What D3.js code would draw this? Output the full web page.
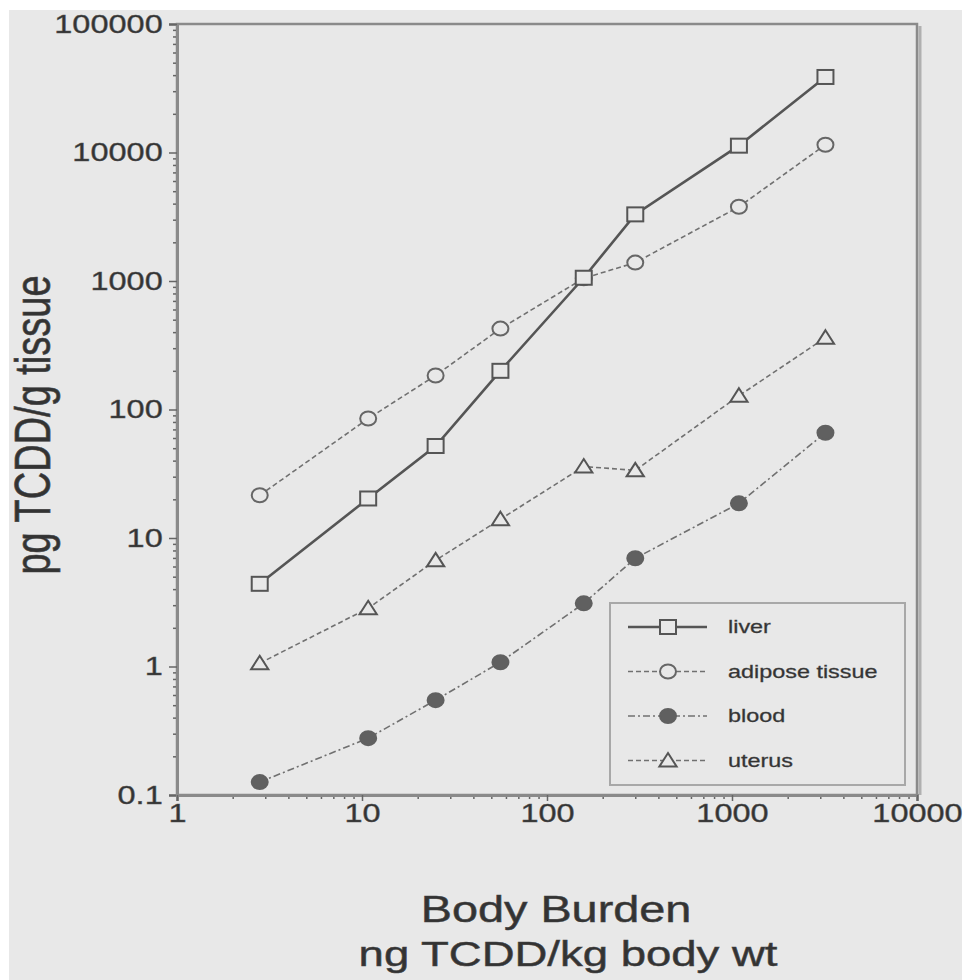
<!DOCTYPE html>
<html>
<head>
<meta charset="utf-8">
<script src="https://cdn.jsdelivr.net/npm/d3@7"></script>
<style>
  html, body { margin: 0; padding: 0; background: #ffffff; }
  svg { display: block; }
  text { font-family: "Liberation Sans", Arial, sans-serif; fill: #333; }
</style>
</head>
<body>
<svg id="chart" width="967" height="980"></svg>
<script>
// ---- data ----
const bodyBurden = [2.8, 10.8, 25, 56, 158, 300, 1090, 3200];
const liver   = [4.4, 20.3, 52, 200, 1060, 3300, 11300, 38700];
const adipose = [21.5, 85, 184, 426, 1050, 1390, 3780, 11500];
const blood   = [0.126, 0.277, 0.547, 1.08, 3.1, 6.95, 18.6, 66];
const uterus  = [1.06, 2.84, 6.7, 14, 36, 33.6, 128, 362];
const seriesNames = ["liver", "adipose tissue", "blood", "uterus"];
const xTickLabels = ["1", "10", "100", "1000", "10000"];
const yTickLabels = ["0.1", "1", "10", "100", "1000", "10000", "100000"];
const xTitle = ["Body Burden", "ng TCDD/kg body wt"];
const yTitle = "pg TCDD/g tissue";

(function () {
// ---- layout ----
const SX = 1.3; // horizontal stretch of text and markers in the reference
const svg = d3.select("#chart");
svg.append("rect").attr("x", 9).attr("y", 10).attr("width", 953).attr("height", 970).attr("fill", "#e8e8e8");

const pL = 177, pR = 917, pT = 24, pB = 795;
const x = d3.scaleLog().domain([1, 10000]).range([pL, pR]);
const y = d3.scaleLog().domain([0.1, 100000]).range([pB, pT]);

const xMajor = xTickLabels.map(Number);
const yMajor = yTickLabels.map(Number);
function minors(majors) {
  const out = [];
  for (let i = 0; i < majors.length - 1; i++)
    for (let k = 2; k <= 9; k++) out.push(majors[i] * k);
  return out;
}

// frame
svg.append("line").attr("x1", pR + 3).attr("x2", pR + 3).attr("y1", pT + 2).attr("y2", pB)
  .attr("stroke", "#b0b0b0").attr("stroke-width", 3);
svg.append("rect").attr("x", pL).attr("y", pT).attr("width", pR - pL).attr("height", pB - pT)
  .attr("fill", "none").attr("stroke", "#8a8a8a").attr("stroke-width", 2.5);

// y axis
const gyMin = svg.append("g").attr("transform", `translate(${pL},0)`)
  .call(d3.axisLeft(y).tickValues(minors(yMajor)).tickSize(4).tickFormat(""));
const gy = svg.append("g").attr("transform", `translate(${pL},0)`)
  .call(d3.axisLeft(y).tickValues(yMajor).tickSize(8).tickPadding(3)
        .tickFormat((d, i) => yTickLabels[i]));
// x axis
const gxMin = svg.append("g").attr("transform", `translate(0,${pB})`)
  .call(d3.axisBottom(x).tickValues(minors(xMajor)).tickSize(4).tickFormat(""));
const gx = svg.append("g").attr("transform", `translate(0,${pB})`)
  .call(d3.axisBottom(x).tickValues(xMajor).tickSize(6).tickPadding(3)
        .tickFormat((d, i) => xTickLabels[i]));

[gyMin, gy, gxMin, gx].forEach(g => {
  g.select(".domain").attr("stroke", "#8a8a8a").attr("stroke-width", 3);
  g.selectAll(".tick line").attr("stroke", "#666").attr("stroke-width", 1.5);
});
gy.selectAll(".tick text").attr("font-size", 25).attr("fill", "#2e2e2e")
  .attr("stroke", "#555").attr("stroke-width", 0.4)
  .attr("transform", `scale(${SX},1)`);
gx.selectAll(".tick text").attr("font-size", 25).attr("fill", "#2e2e2e")
  .attr("stroke", "#555").attr("stroke-width", 0.4)
  .attr("transform", `scale(${SX},1)`);

// titles
svg.append("text").attr("text-anchor", "middle").attr("font-size", 36)
  .attr("stroke", "#444").attr("stroke-width", 0.5)
  .attr("transform", `translate(556,922) scale(${SX},1)`).text(xTitle[0]);
svg.append("text").attr("text-anchor", "middle").attr("font-size", 35)
  .attr("stroke", "#444").attr("stroke-width", 0.5)
  .attr("transform", `translate(568,966) scale(${SX},1)`).text(xTitle[1]);
svg.append("text").attr("text-anchor", "middle").attr("font-size", 38)
  .attr("stroke", "#444").attr("stroke-width", 0.5)
  .attr("transform", `translate(50,425) scale(${SX},1) rotate(-90)`).text(yTitle);

// series
const styles = {
  "liver":          { data: liver,   dash: null,      width: 2.6, color: "#555",    marker: "square",   fill: "#e8e8e8" },
  "adipose tissue": { data: adipose, dash: "5,3",     width: 1.6, color: "#707070", marker: "circle",   fill: "#e8e8e8" },
  "blood":          { data: blood,   dash: "7,3,2,3", width: 1.6, color: "#707070", marker: "circle",   fill: "#606060" },
  "uterus":         { data: uterus,  dash: "5,3",     width: 1.6, color: "#707070", marker: "triangle", fill: "#e8e8e8" }
};

function drawMarker(g, kind, cx, cy, fill) {
  if (kind === "square") {
    g.append("rect").attr("x", cx - 8).attr("y", cy - 7).attr("width", 16).attr("height", 14)
      .attr("fill", fill).attr("stroke", "#555").attr("stroke-width", 2);
  } else if (kind === "circle") {
    g.append("ellipse").attr("cx", cx).attr("cy", cy).attr("rx", 8).attr("ry", 7)
      .attr("fill", fill).attr("stroke", fill === "#606060" ? "#606060" : "#666").attr("stroke-width", 2);
  } else {
    const s = 7.5;
    const p = `M${cx},${cy - s} L${cx + s * 1.15},${cy + s * 0.8} L${cx - s * 1.15},${cy + s * 0.8} Z`;
    g.append("path").attr("d", p).attr("fill", fill).attr("stroke", "#555").attr("stroke-width", 2);
  }
}

const line = d3.line().x(d => x(d[0])).y(d => y(d[1]));
const order = ["uterus", "blood", "adipose tissue", "liver"];
order.forEach(name => {
  const st = styles[name];
  const pts = bodyBurden.map((b, i) => [b, st.data[i]]);
  const g = svg.append("g");
  g.append("path").datum(pts).attr("d", line).attr("fill", "none")
    .attr("stroke", st.color).attr("stroke-width", st.width)
    .attr("stroke-dasharray", st.dash);
  pts.forEach(p => drawMarker(g, st.marker, x(p[0]), y(p[1]), st.fill));
});

// legend
const lg = svg.append("g");
lg.append("rect").attr("x", 610).attr("y", 603).attr("width", 295).attr("height", 182)
  .attr("fill", "#e8e8e8").attr("stroke", "#a8a8a8").attr("stroke-width", 2);
seriesNames.forEach((name, i) => {
  const st = styles[name];
  const ly = 627 + i * 44.5;
  lg.append("line").attr("x1", 628).attr("x2", 707).attr("y1", ly).attr("y2", ly)
    .attr("stroke", st.color).attr("stroke-width", st.width).attr("stroke-dasharray", st.dash);
  drawMarker(lg, st.marker, 668, ly, st.fill);
  lg.append("text").attr("font-size", 18).attr("dy", "0.35em")
    .attr("stroke", "#444").attr("stroke-width", 0.3)
    .attr("transform", `translate(728,${ly}) scale(${SX},1)`).text(name);
});
})();
</script>
</body>
</html>
